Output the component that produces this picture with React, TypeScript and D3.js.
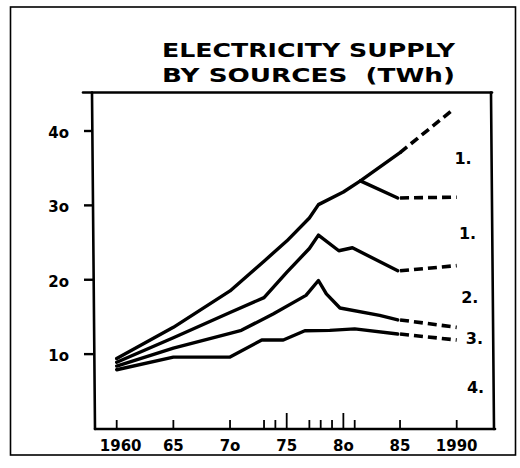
import React from "react";
import * as d3 from "d3";

// ---- data (TWh, cumulative stacked lines) ----
const titleLines = ["ELECTRICITY SUPPLY", "BY SOURCES\u00A0\u00A0(TWh)"];
const yTicks = [10, 20, 30, 40];
const yTickLabels = ["1o", "2o", "3o", "4o"];
const xTickYears = [1960, 1965, 1970, 1973, 1974, 1975, 1977, 1978, 1979, 1980, 1981, 1985, 1990];
const xTallTicks = [1975, 1980];
const xLabelYears = [1960, 1965, 1970, 1975, 1980, 1985, 1990];
const xLabels = ["1960", "65", "7o", "75", "8o", "85", "1990"];

type P = [number, number];
const totalSolid: P[] = [[1960, 9.4], [1965, 13.6], [1970, 18.5], [1973, 22.5], [1975, 25.2], [1977, 28.3], [1977.8, 30.1], [1980, 31.8], [1981.5, 33.3], [1985, 37.1]];
const totalProj: P[] = [[1985, 37.1], [1989.7, 42.9]];
const branchSolid: P[] = [[1981.5, 33.3], [1984.8, 31.0]];
const branchProj: P[] = [[1985, 31.0], [1990, 31.1]];
const series2Solid: P[] = [[1960, 8.9], [1965, 12.2], [1970, 15.6], [1973, 17.6], [1975, 21.0], [1977, 24.2], [1977.8, 26.0], [1979.6, 23.9], [1980.8, 24.3], [1984.8, 21.2]];
const series2Proj: P[] = [[1985, 21.2], [1990, 21.9]];
const series3Solid: P[] = [[1960, 8.4], [1965, 10.8], [1970, 12.8], [1971, 13.2], [1973.8, 15.4], [1976.7, 17.9], [1977.8, 19.9], [1978.5, 18.1], [1979.7, 16.2], [1983.2, 15.2], [1984.8, 14.6]];
const series3Proj: P[] = [[1985, 14.6], [1990, 13.6]];
const series4Solid: P[] = [[1960, 7.9], [1965, 9.6], [1970, 9.6], [1972.8, 11.9], [1974.7, 11.9], [1976.6, 13.15], [1978.8, 13.2], [1981, 13.4], [1984.8, 12.7]];
const series4Proj: P[] = [[1985, 12.7], [1990, 11.9]];

const bandLabels = ["1.", "1.", "2.", "3.", "4."];
const bandLabelValues = [36.4, 26.3, 17.7, 12.2, 5.6];
const bandLabelYears = [1989.8, 1990.2, 1990.4, 1990.8, 1990.9];

export default function App() {
  const W = 520, H = 468;
  const x = d3.scaleLinear().domain([1960, 1990]).range([116.7, 456.7]);
  const y = d3.scaleLinear().domain([0, 40]).range([428.5, 131]);
  const line = d3.line<P>().x(d => x(d[0])).y(d => y(d[1]));

  const plotL = 93, plotR = 492, plotT = 92.5, plotB = 429;
  const font = "'DejaVu Sans', sans-serif";

  const solids = [totalSolid, branchSolid, series2Solid, series3Solid, series4Solid];
  const dashes = [totalProj, branchProj, series2Proj, series3Proj, series4Proj];

  return (
    <svg width={W} height={H} style={{ position: "absolute", left: 0, top: 0, background: "#fff" }}>
      <rect x={0} y={0} width={W} height={H} fill="#fff" />
      {/* outer frame */}
      <rect x={10.5} y={7} width={505} height={448} fill="none" stroke="#000" strokeWidth={1.6} />
      {/* title */}
      {titleLines.map((t, i) => (
        <text key={i} x={162} y={57 + i * 25} fontFamily={font} fontWeight="bold" fontSize={19}
          textLength={293} lengthAdjust="spacingAndGlyphs" fill="#000" style={{ whiteSpace: "pre" }}>{t}</text>
      ))}
      {/* plot frame */}
      <g stroke="#000" strokeWidth={2.6} fill="none" strokeLinecap="round">
        <line x1={83} y1={plotT} x2={plotR} y2={plotT} />
        <line x1={plotL - 1} y1={plotT} x2={plotL + 2} y2={plotB} />
        <line x1={plotR - 1} y1={plotT} x2={plotR + 2} y2={plotB} />
        <line x1={plotL + 2} y1={plotB} x2={plotR + 3} y2={plotB} />
      </g>
      {/* y ticks */}
      {yTicks.map((v, i) => (
        <g key={v}>
          <line x1={84} x2={93} y1={y(v)} y2={y(v)} stroke="#000" strokeWidth={2.4} />
          <text x={69} y={y(v) + 7} textAnchor="end" fontFamily={font} fontWeight="bold" fontSize={15} fill="#000">{yTickLabels[i]}</text>
        </g>
      ))}
      {/* x ticks */}
      {xTickYears.map(yr => (
        <line key={yr} x1={x(yr)} x2={x(yr)} y1={plotB} y2={plotB - (xTallTicks.includes(yr) ? 16 : 9)} stroke="#000" strokeWidth={1.8} />
      ))}
      {xLabelYears.map((yr, i) => (
        <text key={yr} x={x(yr) + (i === 0 ? 4 : 0)} y={451} textAnchor="middle" fontFamily={font} fontWeight="bold" fontSize={15} fill="#000">{xLabels[i]}</text>
      ))}
      {/* lines */}
      <g fill="none" stroke="#000" strokeWidth={3.4} strokeLinejoin="round" strokeLinecap="round">
        {solids.map((s, i) => <path key={"s" + i} d={line(s) || ""} />)}
      </g>
      <g fill="none" stroke="#000" strokeWidth={3.6} strokeDasharray="9,5">
        {dashes.map((s, i) => <path key={"d" + i} d={line(s) || ""} />)}
      </g>
      {/* band labels */}
      {bandLabels.map((t, i) => (
        <text key={i} x={x(bandLabelYears[i])} y={y(bandLabelValues[i]) + 6} textAnchor="start" fontFamily={font} fontWeight="bold" fontSize={16} fill="#000">{t}</text>
      ))}
    </svg>
  );
}
